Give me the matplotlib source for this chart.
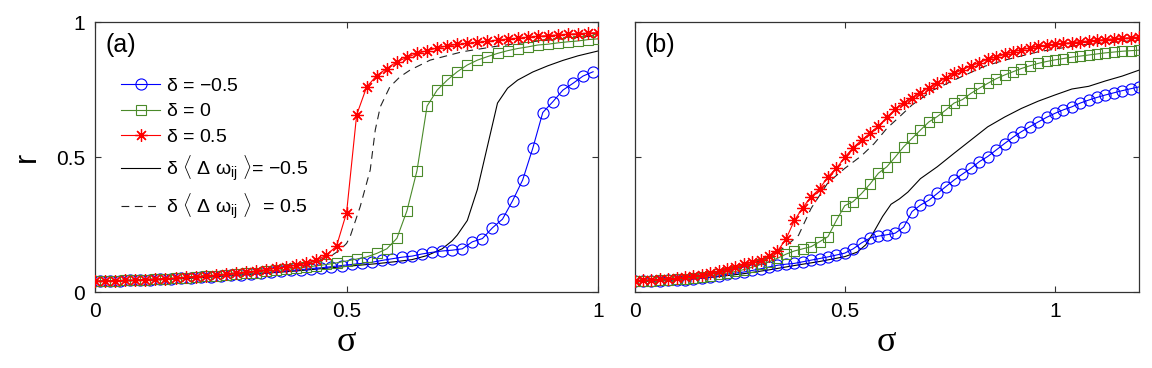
import numpy as np
import matplotlib.pyplot as plt

plt.rcParams['font.family'] = ['Liberation Sans', 'DejaVu Sans']
plt.rcParams['mathtext.fontset'] = 'custom'
plt.rcParams['mathtext.rm'] = 'Liberation Sans'
plt.rcParams['mathtext.it'] = 'Liberation Sans'
plt.rcParams['mathtext.bf'] = 'Liberation Sans:bold'

# ---------------- panel (a) data ----------------
sig_a = np.arange(51) * 0.02            # 0 .. 1, step 0.02
sig_a_blue = 0.01 + np.arange(50) * 0.02  # 0.01 .. 0.99

blue_a = [0.040, 0.041, 0.042, 0.043, 0.044, 0.046, 0.047, 0.049, 0.051, 0.053,
          0.055, 0.057, 0.059, 0.062, 0.064, 0.067, 0.070, 0.073, 0.076, 0.080,
          0.083, 0.087, 0.090, 0.094, 0.098, 0.102, 0.106, 0.110, 0.117, 0.123,
          0.129, 0.133, 0.141, 0.147, 0.152, 0.155, 0.160, 0.186, 0.198, 0.238,
          0.270, 0.338, 0.415, 0.532, 0.665, 0.705, 0.748, 0.773, 0.800, 0.816]

green_a = [0.040, 0.041, 0.042, 0.043, 0.044, 0.045, 0.047, 0.049, 0.051, 0.053,
           0.055, 0.058, 0.060, 0.063, 0.066, 0.069, 0.072, 0.076, 0.080, 0.084,
           0.088, 0.092, 0.097, 0.102, 0.108, 0.115, 0.122, 0.130, 0.143, 0.160,
           0.199, 0.301, 0.450, 0.689, 0.748, 0.785, 0.816, 0.841, 0.859, 0.872,
           0.884, 0.894, 0.902, 0.908, 0.915, 0.918, 0.923, 0.927, 0.930, 0.935,
           0.938]

red_a = [0.040, 0.041, 0.042, 0.043, 0.044, 0.046, 0.048, 0.050, 0.052, 0.055,
         0.057, 0.060, 0.063, 0.066, 0.070, 0.074, 0.078, 0.083, 0.088, 0.093,
         0.099, 0.106, 0.117, 0.137, 0.170, 0.294, 0.656, 0.760, 0.802, 0.828,
         0.853, 0.869, 0.884, 0.894, 0.904, 0.912, 0.917, 0.921, 0.925, 0.929,
         0.933, 0.937, 0.940, 0.944, 0.947, 0.950, 0.952, 0.955, 0.957, 0.959,
         0.961]

solid_a_x = [0.0, 0.1, 0.2, 0.3, 0.4, 0.5, 0.56, 0.6, 0.63, 0.66, 0.69, 0.71,
             0.72, 0.74, 0.76, 0.78, 0.80, 0.82, 0.84, 0.87, 0.90, 0.93, 0.96, 1.0]
solid_a_y = [0.038, 0.043, 0.052, 0.064, 0.078, 0.095, 0.105, 0.113, 0.120,
             0.135, 0.160, 0.190, 0.211, 0.265, 0.380, 0.540, 0.700, 0.755,
             0.785, 0.815, 0.838, 0.858, 0.875, 0.893]

dash_a_x = [0.0, 0.1, 0.2, 0.3, 0.4, 0.44, 0.47, 0.487, 0.50, 0.507, 0.527,
            0.547, 0.557, 0.567, 0.586, 0.606, 0.626, 0.666, 0.73, 0.80, 0.865, 1.0]
dash_a_y = [0.040, 0.046, 0.057, 0.074, 0.099, 0.115, 0.135, 0.156, 0.180,
            0.205, 0.316, 0.452, 0.600, 0.686, 0.760, 0.797, 0.822, 0.859,
            0.890, 0.911, 0.927, 0.950]

# ---------------- panel (b) data ----------------
sig_b = np.arange(61) * 0.02            # 0 .. 1.2, step 0.02

blue_b = [0.040, 0.040, 0.041, 0.042, 0.043, 0.044, 0.046, 0.048, 0.051, 0.055,
          0.060, 0.066, 0.070, 0.074, 0.080, 0.086, 0.093, 0.099, 0.103, 0.106,
          0.112, 0.118, 0.124, 0.130, 0.137, 0.144, 0.160, 0.182, 0.200, 0.207,
          0.212, 0.218, 0.240, 0.298, 0.322, 0.340, 0.365, 0.390, 0.415, 0.437,
          0.458, 0.483, 0.502, 0.526, 0.550, 0.573, 0.594, 0.612, 0.630, 0.647,
          0.662, 0.675, 0.686, 0.700, 0.711, 0.721, 0.730, 0.738, 0.746, 0.753,
          0.760]

green_b = [0.040, 0.041, 0.042, 0.043, 0.045, 0.047, 0.049, 0.052, 0.056, 0.060,
           0.065, 0.070, 0.076, 0.083, 0.092, 0.102, 0.112, 0.125, 0.140, 0.152,
           0.160, 0.168, 0.186, 0.205, 0.265, 0.320, 0.335, 0.365, 0.400, 0.440,
           0.464, 0.500, 0.538, 0.569, 0.600, 0.630, 0.650, 0.674, 0.700, 0.713,
           0.736, 0.755, 0.773, 0.790, 0.804, 0.816, 0.828, 0.838, 0.847, 0.854,
           0.860, 0.865, 0.870, 0.874, 0.878, 0.882, 0.886, 0.889, 0.892, 0.894,
           0.896]

red_b = [0.042, 0.043, 0.045, 0.047, 0.049, 0.052, 0.055, 0.058, 0.063, 0.070,
         0.077, 0.085, 0.093, 0.102, 0.110, 0.120, 0.135, 0.152, 0.195, 0.265,
         0.312, 0.353, 0.382, 0.427, 0.458, 0.499, 0.535, 0.563, 0.588, 0.615,
         0.647, 0.678, 0.700, 0.720, 0.738, 0.757, 0.775, 0.793, 0.810, 0.824,
         0.837, 0.850, 0.862, 0.871, 0.880, 0.890, 0.898, 0.904, 0.910, 0.914,
         0.918, 0.921, 0.924, 0.927, 0.930, 0.933, 0.935, 0.938, 0.940, 0.942,
         0.944]

solid_b_x = [0.0, 0.1, 0.2, 0.26, 0.32, 0.38, 0.44, 0.50, 0.53, 0.55, 0.57, 0.59,
             0.61, 0.63, 0.65, 0.68, 0.72, 0.76, 0.80, 0.84, 0.88, 0.92, 0.96,
             1.0, 1.04, 1.08, 1.12, 1.16, 1.2]
solid_b_y = [0.038, 0.043, 0.057, 0.068, 0.082, 0.098, 0.113, 0.131, 0.148,
             0.175, 0.225, 0.280, 0.325, 0.345, 0.370, 0.420, 0.464, 0.514,
             0.563, 0.612, 0.648, 0.680, 0.707, 0.730, 0.752, 0.762, 0.782,
             0.800, 0.822]

dash_b_x = [0.0, 0.1, 0.2, 0.28, 0.33, 0.36, 0.39, 0.42, 0.46, 0.50, 0.54, 0.57,
            0.60, 0.63, 0.66, 0.71, 0.76, 0.83, 0.88, 0.96, 1.06, 1.2]
dash_b_y = [0.042, 0.050, 0.072, 0.105, 0.135, 0.170, 0.210, 0.310, 0.405,
            0.458, 0.505, 0.550, 0.606, 0.649, 0.693, 0.748, 0.785, 0.835,
            0.859, 0.890, 0.915, 0.933]

labels = [r'$\delta$ = −0.5', r'$\delta$ = 0', r'$\delta$ = 0.5',
          r'$\delta\ \langle\ \Delta\ \omega_{ij}\ \rangle$= −0.5',
          r'$\delta\ \langle\ \Delta\ \omega_{ij}\ \rangle\ $ = 0.5']

BLUE = '#0000ff'
GREEN = '#4a8a2a'
RED = '#ff0000'
STAR = (8, 2, 0)


def dibuja_panel(ax, sx, sx_blue, blue, green, red, sxs, ys, sxd, yd, xmax, letra):
    h4, = ax.plot(sxs, ys, '-', color='black', lw=0.8, zorder=2)
    h5, = ax.plot(sxd, yd, '-', color='#222222', lw=0.8, dashes=(7, 5), zorder=2)
    h1, = ax.plot(sx_blue, blue, '-', color=BLUE, lw=0.8, marker='o', ms=8,
                  mfc='none', mec=BLUE, mew=0.8, zorder=3)
    h2, = ax.plot(sx, green, '-', color=GREEN, lw=0.8, marker='s', ms=7,
                  mfc='none', mec=GREEN, mew=0.8, zorder=3)
    h3, = ax.plot(sx, red, '-', color=RED, lw=0.8, marker=STAR, ms=9,
                  mec=RED, mew=0.9, zorder=4)
    ax.set_xlim(0, xmax)
    ax.set_ylim(0, 1)
    ax.set_xticks([0, 0.5, 1])
    ax.set_xticklabels(['0', '0.5', '1'])
    ax.set_yticks([0, 0.5, 1])
    ax.tick_params(direction='in', length=4, width=0.8, top=True, right=True,
                   labelsize=15, pad=7, colors='#333333', labelcolor='black')
    for s in ax.spines.values():
        s.set_linewidth(0.9)
        s.set_color('#333333')
    ax.set_xlabel('σ', fontsize=26, family='Liberation Serif', labelpad=4)
    ax.text(0.02, 0.915, letra, transform=ax.transAxes, fontsize=18,
            ha='left', va='center')
    return [h1, h2, h3, h4, h5]


fig = plt.figure(figsize=(11.52, 3.68), dpi=100)
ax1 = fig.add_axes([0.0825, 0.2065, 0.4367, 0.7335])
ax2 = fig.add_axes([0.5508, 0.2065, 0.4380, 0.7335])

hs = dibuja_panel(ax1, sig_a, sig_a_blue, blue_a, green_a, red_a,
                  solid_a_x, solid_a_y, dash_a_x, dash_a_y, 1.0, '(a)')
dibuja_panel(ax2, sig_b, sig_b, blue_b, green_b, red_b,
             solid_b_x, solid_b_y, dash_b_x, dash_b_y, 1.2, '(b)')

ax1.set_yticklabels(['0', '0.5', '1'])
ax2.set_yticklabels([])
ax1.set_ylabel('r', fontsize=22, labelpad=10)

ax1.legend(hs, labels, loc='upper left', bbox_to_anchor=(0.052, 0.795),
           frameon=False, fontsize=14, handlelength=2.0, handletextpad=0.3,
           labelspacing=0.4, borderpad=0, borderaxespad=0)

plt.savefig('out.png', dpi=100)
